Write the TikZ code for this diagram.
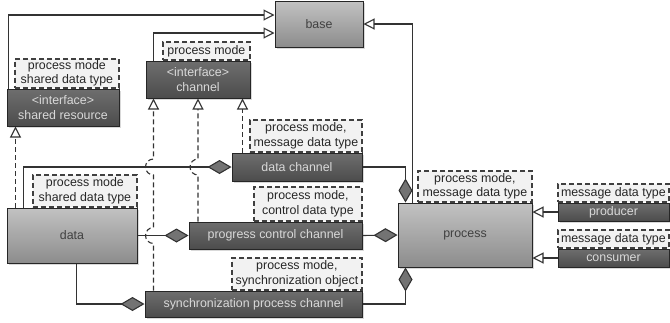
\documentclass[tikz,border=0pt]{standalone}
\usepackage{fontspec}
\setmainfont{Liberation Sans}
\usetikzlibrary{arrows.meta,positioning,calc,shadows}
\definecolor{darktop}   {HTML}{6E6E6E}
\definecolor{darkbot}   {HTML}{4C4C4C}
\definecolor{lighttop}  {HTML}{C2C2C2}
\definecolor{lightbot}  {HTML}{8C8C8C}
\definecolor{notefill}  {HTML}{F2F2F2}
\definecolor{linegray}  {HTML}{333333}

\begin{document}
\begin{tikzpicture}[
  x=1pt,y=-1pt,
  font=\fontsize{12.4}{14.5}\selectfont,
  darkbox/.style={draw=black!85,line width=1pt,top color=darktop,bottom color=darkbot,
                  text=black!15,align=center,inner sep=1pt,
                  drop shadow={opacity=0.3,shadow xshift=2pt,shadow yshift=-2pt}},
  lightbox/.style={draw=black!85,line width=1pt,top color=lighttop,bottom color=lightbot,
                  text=black!75,align=center,inner sep=1pt,
                  drop shadow={opacity=0.3,shadow xshift=2pt,shadow yshift=-2pt}},
  note/.style={draw=black!75,fill=notefill,line width=1.2pt,dash pattern=on 5pt off 3pt,
               text=black!85,align=center,inner sep=1pt,anchor=south east},
  inh/.style={-{Triangle[length=11pt,width=11pt,fill=white]},line width=1.1pt,draw=linegray},
  dinh/.style={inh,dash pattern=on 5pt off 3pt},
  agg/.style={{Diamond[length=24pt,width=14pt,fill=black!55]}-,line width=1.1pt,draw=linegray}
]
\useasboundingbox (0,0) rectangle (670,322);

% boxes
\node[lightbox,minimum width=88pt,minimum height=46pt]  (base)  at (319,24)    {base};
\node[darkbox,minimum width=112pt,minimum height=37pt]  (shres) at (63,107.5)  {<interface>\\shared resource};
\node[darkbox,minimum width=104pt,minimum height=37pt]  (chan)  at (198,79.5)  {<interface>\\channel};
\node[darkbox,minimum width=130pt,minimum height=28pt]  (dch)   at (297,167)   {data channel};
\node[lightbox,minimum width=130pt,minimum height=55pt] (data)  at (72,235.5)  {data};
\node[darkbox,minimum width=173pt,minimum height=27pt]  (pcc)   at (275.5,235.5) {progress control channel};
\node[darkbox,minimum width=217pt,minimum height=26pt]  (sync)  at (253.5,304) {synchronization process channel};
\node[lightbox,minimum width=134pt,minimum height=64pt] (proc)  at (465,235)   {process};
\node[darkbox,minimum width=111pt,minimum height=18pt]  (prod)  at (613.5,212) {producer};
\node[darkbox,minimum width=111pt,minimum height=18pt]  (cons)  at (613.5,258) {consumer};

% template notes
\node[note,minimum width=104pt,minimum height=29pt] (shresN) at (shres.north east) {process mode\\shared data type};
\node[note,minimum width=87pt,minimum height=18pt]  (chanN)  at (chan.north east)  {process mode};
\node[note,minimum width=112pt,minimum height=32pt] (dchN)   at (dch.north east)   {process mode,\\message data type};
\node[note,minimum width=104pt,minimum height=32pt] (dataN)  at (data.north east)  {process mode\\shared data type};
\node[note,minimum width=108pt,minimum height=34pt] (pccN)   at (pcc.north east)   {process mode,\\control data type};
\node[note,minimum width=130pt,minimum height=32pt] (syncN)  at (sync.north east)  {process mode,\\synchronization object};
\node[note,minimum width=114pt,minimum height=31pt] (procN)  at (proc.north east)  {process mode,\\message data type};
\node[note,minimum width=111pt,minimum height=18pt] (prodN)  at (prod.north east)  {message data type};
\node[note,minimum width=111pt,minimum height=18pt] (consN)  at (cons.north east)  {message data type};

\coordinate (c1) at ($(chan.south west)+(8,0)$);
\coordinate (c3) at ($(chan.south east)+(-8,0)$);

% generalisation
\draw[inh] ($(shres.north west)+(2,0)$) |- ($(base.west)+(0,-9)$);
\draw[inh] ($(chan.north west)+(8,0)$)  |- ($(base.west)+(0,9)$);
\draw[inh] ($(proc.north west)+(15,0)$) |- (base.east);
\draw[inh] (prod.west) -- (prod.west -| proc.east);
\draw[inh] (cons.west) -- (cons.west -| proc.east);

% aggregation
\draw[agg] (dch.west) -| ($(data.north west)+(17,0)$);
\draw[agg] (pcc.west) -- (data.east);
\draw[agg] (sync.west) -| ($(data.south west)+(70,0)$);
\draw[agg] ($(proc.north west)+(8,0)$) |- (dch.east);
\draw[agg] (proc.west) -- (pcc.east);
\draw[agg] ($(proc.south west)+(8,0)$) |- (sync.east);

% realisation (dashed, hopping over the solid lines)
\draw[dinh] ($(data.north west)+(9,0)$) -- ($(shres.south west)+(9,0)$);
\draw[dinh] (sync.north -| c1) -- ($(pcc.west -| c1)+(0,8)$)
  arc[start angle=270,end angle=90,radius=8pt]
  -- ($(dch.west -| c1)+(0,8)$)
  arc[start angle=270,end angle=90,radius=8pt] -- (c1);
\draw[dinh] (pcc.north -| chan.south) -- ($(dch.west -| chan.south)+(0,8)$)
  arc[start angle=270,end angle=90,radius=8pt] -- (chan.south);
\draw[dinh] (dch.north -| c3) -- (c3);
\end{tikzpicture}
\end{document}
